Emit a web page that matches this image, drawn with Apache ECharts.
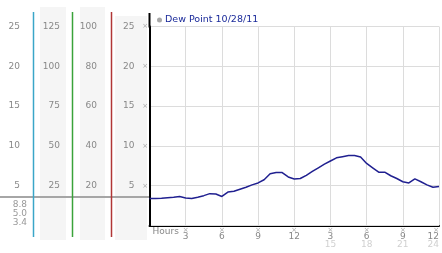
<!DOCTYPE html>
<html><head><meta charset="utf-8">
<script src="https://cdn.jsdelivr.net/npm/echarts@6/dist/echarts.min.js"></script>
<style>html,body{margin:0;padding:0;background:#fff}#c{width:442px;height:253px}</style>
</head><body><div id="c"></div>
<script>
// ---- data ----
const seriesName = 'Dew Point 10/28/11';
const hours = [0,0.5,1,1.5,2,2.5,3,3.5,4,4.5,5,5.5,6,6.5,7,7.5,8,8.5,9,9.5,10,10.5,11,11.5,12,12.5,13,13.5,14,14.5,15,15.5,16,16.5,17,17.5,18,18.5,19,19.5,20,20.5,21,21.5,22,22.5,23,23.5,24];
const dewPoint = [3.4,3.4,3.42,3.5,3.55,3.65,3.45,3.4,3.55,3.75,4.0,3.95,3.65,4.2,4.3,4.55,4.8,5.1,5.35,5.75,6.5,6.65,6.65,6.1,5.85,5.9,6.3,6.8,7.25,7.7,8.1,8.5,8.65,8.8,8.8,8.6,7.8,7.25,6.7,6.7,6.25,5.9,5.5,5.35,5.85,5.5,5.1,4.8,4.9];
const xTicks = [3,6,9,12,15,18,21,24];
const xTopLabels = ['3','6','9','12','3','6','9','12'];
const xBottomLabels = ['','','','','15','18','21','24'];
const col1Ticks = [5,10,15,20,25];
const col2Ticks = [25,50,75,100,125];
const col3Ticks = [20,40,60,80,100];
const mainTicks = [5,10,15,20,25];
const statLabels = ['8.8','5.0','3.4'];
const xAxisName = 'Hours';

const FONT = 'DejaVu Sans';
const GL = 149.5, GT = 26.5, GB = 27.5, GR = 2;

function sideAxis(ticks, offset, extra) {
  return Object.assign({
    type: 'value', position: 'left', offset: offset,
    min: 0, max: ticks[ticks.length-1], interval: ticks[0],
    axisLine: {show: false}, axisTick: {show: false}, splitLine: {show: false},
    axisLabel: {margin: 0, color: '#888', fontSize: 9, fontFamily: FONT,
      formatter: v => ticks.indexOf(v) >= 0 ? String(v) : ''},
    z: 5
  }, extra || {});
}

const chart = echarts.init(document.getElementById('c'), null, {renderer: 'canvas'});
chart.setOption({
  animation: false,
  grid: {left: GL, top: GT, bottom: GB, right: GR, containLabel: false},
  legend: {
    left: 157, top: 15, padding: 0, itemWidth: 5, itemHeight: 5, icon: 'circle',
    data: [{name: seriesName, itemStyle: {color: '#a8a8a8'}}],
    textStyle: {color: '#1a2a9a', fontSize: 9.5, fontFamily: FONT, padding: [0, 0, 0, -2]}
  },
  xAxis: {
    type: 'value', min: 0, max: 24, interval: 3,
    axisLine: {show: true, lineStyle: {color: '#000', width: 2}},
    axisTick: {show: false},
    splitLine: {show: true, lineStyle: {color: '#dcdcdc', width: 1}},
    axisLabel: {
      margin: 2, alignMaxLabel: 'right', fontFamily: FONT,
      formatter: v => {
        const i = xTicks.indexOf(v);
        if (i < 0) return '';
        return '{m|×}\n{a|' + xTopLabels[i] + '}\n{b|' + (xBottomLabels[i] || ' ') + '}';
      },
      rich: {
        m: {fontSize: 7, lineHeight: 5, color: '#aaa', fontFamily: FONT},
        a: {fontSize: 9, lineHeight: 8, color: '#888', fontFamily: FONT},
        b: {fontSize: 9, lineHeight: 8, color: '#d0d0d0', fontFamily: FONT}
      }
    },
    z: 3
  },
  yAxis: [
    {
      type: 'value', position: 'left', min: 0, max: mainTicks[mainTicks.length-1], interval: mainTicks[0],
      axisLine: {show: true, lineStyle: {color: '#000', width: 2}},
      axisTick: {show: false},
      splitLine: {show: true, lineStyle: {color: '#dcdcdc', width: 1}},
      axisLabel: {
        margin: 1.5, fontFamily: FONT,
        formatter: v => mainTicks.indexOf(v) >= 0 ? '{v|' + v + '}  {m|×}' : '',
        rich: {
          v: {fontSize: 9, color: '#888', fontFamily: FONT},
          m: {fontSize: 7, color: '#aaa', fontFamily: FONT}
        }
      },
      z: 5
    },
    sideAxis(col3Ticks, GL - 97),
    sideAxis(col2Ticks, GL - 60),
    sideAxis(col1Ticks, GL - 20)
  ],
  series: [{
    name: seriesName, type: 'line', yAxisIndex: 0, xAxisIndex: 0,
    showSymbol: false, symbol: 'none',
    lineStyle: {color: '#202090', width: 1.5},
    itemStyle: {color: '#202090'},
    data: hours.map((h, i) => [h, dewPoint[i]]),
    z: 6
  }],
  graphic: [
    {type: 'rect', shape: {x: 40, y: 7, width: 26, height: 233}, style: {fill: '#f5f5f5'}, z: 1, silent: true},
    {type: 'rect', shape: {x: 80, y: 7, width: 25, height: 233}, style: {fill: '#f5f5f5'}, z: 1, silent: true},
    {type: 'rect', shape: {x: 115, y: 16, width: 32, height: 224}, style: {fill: '#f5f5f5'}, z: 1, silent: true},
    {type: 'line', shape: {x1: 0, y1: 197, x2: 149, y2: 197}, style: {stroke: '#a6a6a6', lineWidth: 2}, z: 2, silent: true},
    {type: 'line', shape: {x1: 33.5, y1: 12, x2: 33.5, y2: 237}, style: {stroke: '#3aa6c8', lineWidth: 1.5}, z: 4, silent: true},
    {type: 'line', shape: {x1: 72.5, y1: 12, x2: 72.5, y2: 237}, style: {stroke: '#3aa33a', lineWidth: 1.5}, z: 4, silent: true},
    {type: 'line', shape: {x1: 111.5, y1: 12, x2: 111.5, y2: 237}, style: {stroke: '#b03636', lineWidth: 1.5}, z: 4, silent: true},
    {type: 'line', shape: {x1: GL, y1: 13, x2: GL, y2: GT + 1}, style: {stroke: '#000', lineWidth: 2}, z: 4, silent: true},
    {type: 'text', x: 27, y: 205, style: {text: statLabels[0], fill: '#999', font: '9px "DejaVu Sans"', textAlign: 'right', textVerticalAlign: 'middle'}, z: 4},
    {type: 'text', x: 27, y: 214, style: {text: statLabels[1], fill: '#999', font: '9px "DejaVu Sans"', textAlign: 'right', textVerticalAlign: 'middle'}, z: 4},
    {type: 'text', x: 27, y: 223, style: {text: statLabels[2], fill: '#999', font: '9px "DejaVu Sans"', textAlign: 'right', textVerticalAlign: 'middle'}, z: 4},
    {type: 'text', x: 152.5, y: 232, style: {text: xAxisName, fill: '#888', font: '9px "DejaVu Sans"', textAlign: 'left', textVerticalAlign: 'middle'}, z: 4}
  ]
});
</script>
</body></html>
